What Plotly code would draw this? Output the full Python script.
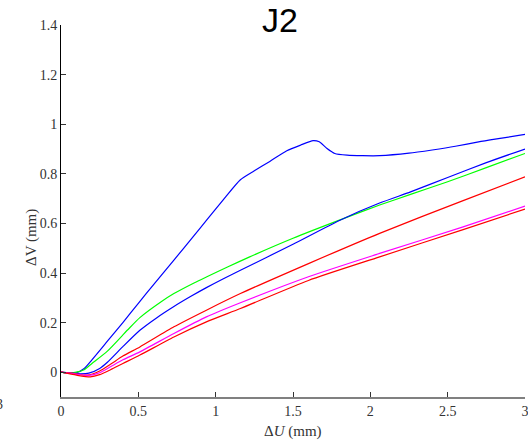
import plotly.graph_objects as go

# ---- data ----
blue1_x = [0, 0.05, 0.1, 0.15, 0.2, 0.3, 0.4, 0.5, 0.6, 0.73, 0.86, 0.94, 1.05, 1.16, 1.25, 1.35, 1.46, 1.55, 1.63, 1.67, 1.72, 1.77, 1.85, 1.95, 2.06, 2.25, 2.4, 2.55, 2.7, 2.85, 3.0]
blue1_y = [0, -0.004, -0.002, 0.015, 0.05, 0.125, 0.2, 0.278, 0.354, 0.452, 0.551, 0.612, 0.696, 0.776, 0.812, 0.85, 0.893, 0.916, 0.934, 0.929, 0.902, 0.882, 0.875, 0.873, 0.873, 0.883, 0.896, 0.911, 0.929, 0.944, 0.959]

green_x = [0, 0.05, 0.1, 0.15, 0.2, 0.3, 0.43, 0.51, 0.65, 0.73, 0.86, 0.94, 1.08, 1.22, 1.5, 1.8, 2.06, 2.26, 2.5, 2.75, 3.0]
green_y = [0, -0.004, 0.0, 0.01, 0.035, 0.085, 0.17, 0.22, 0.285, 0.317, 0.36, 0.384, 0.425, 0.465, 0.54, 0.613, 0.674, 0.717, 0.768, 0.825, 0.882]

blue2_x = [0, 0.1, 0.18, 0.25, 0.3, 0.4, 0.51, 0.62, 0.73, 0.84, 0.94, 1.05, 1.16, 1.5, 1.8, 2.06, 2.26, 2.5, 2.75, 3.0]
blue2_y = [0, -0.006, -0.004, 0.015, 0.04, 0.103, 0.169, 0.22, 0.265, 0.306, 0.341, 0.377, 0.411, 0.516, 0.612, 0.682, 0.727, 0.785, 0.845, 0.9]

red1_x = [0, 0.08, 0.17, 0.25, 0.32, 0.4, 0.51, 0.73, 0.94, 1.16, 1.6, 2.06, 2.6, 3.0]
red1_y = [0, -0.005, -0.012, 0.005, 0.032, 0.065, 0.102, 0.183, 0.25, 0.317, 0.438, 0.56, 0.692, 0.788]

magenta_x = [0, 0.1, 0.18, 0.25, 0.32, 0.4, 0.51, 0.73, 0.94, 1.16, 1.6, 2.06, 2.6, 3.0]
magenta_y = [0, -0.008, -0.013, -0.002, 0.022, 0.05, 0.082, 0.156, 0.223, 0.28, 0.385, 0.479, 0.586, 0.67]

red2_x = [0, 0.1, 0.19, 0.25, 0.32, 0.4, 0.51, 0.73, 0.94, 1.16, 1.6, 2.06, 2.6, 3.0]
red2_y = [0, -0.012, -0.019, -0.01, 0.01, 0.035, 0.069, 0.142, 0.203, 0.257, 0.37, 0.465, 0.575, 0.658]

x_ticks = [0, 0.5, 1, 1.5, 2, 2.5, 3]
x_ticklabels = ["0", "0.5", "1", "1.5", "2", "2.5", "3"]
y_ticks = [0, 0.2, 0.4, 0.6, 0.8, 1.0, 1.2, 1.4]
y_ticklabels = ["0", "0.2", "0.4", "0.6", "0.8", "1", "1.2", "1.4"]

series = [
    (blue1_x, blue1_y, "#0000ff"),
    (green_x, green_y, "#00ff00"),
    (blue2_x, blue2_y, "#0000ff"),
    (red1_x, red1_y, "#ff0000"),
    (magenta_x, magenta_y, "#ff00ff"),
    (red2_x, red2_y, "#ff0000"),
]

fig = go.Figure()
for xs, ys, c in series:
    fig.add_trace(go.Scatter(x=xs, y=ys, mode="lines",
                             line=dict(color=c, width=1.2, shape="spline", smoothing=0.6),
                             showlegend=False, hoverinfo="skip", cliponaxis=False))

serif = "Liberation Serif"
fig.update_layout(
    width=528, height=440,
    margin=dict(l=61, r=3, t=25, b=43, autoexpand=False),
    plot_bgcolor="white", paper_bgcolor="white",
    showlegend=False,
    font=dict(family=serif, size=14, color="#333333"),
)
fig.update_xaxes(range=[0, 3], tickvals=x_ticks, ticktext=x_ticklabels,
                 showline=True, linecolor="#808080", linewidth=1.5,
                 ticks="inside", ticklen=5, tickcolor="#333333",
                 showgrid=False, zeroline=False, automargin=False,
                 ticklabeloverflow="allow",
                 tickfont=dict(family=serif, size=14, color="#333333"))
fig.update_yaxes(range=[-0.1, 1.4], tickvals=y_ticks, ticktext=y_ticklabels,
                 showline=True, linecolor="#000000", linewidth=1,
                 ticks="inside", ticklen=5, tickcolor="#333333",
                 showgrid=False, zeroline=False, automargin=False,
                 ticklabeloverflow="allow",
                 tickfont=dict(family=serif, size=14, color="#333333"))

fig.add_annotation(text="J2", xref="paper", yref="paper", x=0.472, y=1.013,
                   xanchor="center", yanchor="middle", showarrow=False,
                   font=dict(family="Liberation Sans", size=34, color="#000000"))
fig.add_annotation(text="Δ<i>U</i> (mm)", xref="paper", yref="paper", x=0.5, y=-0.094,
                   xanchor="center", yanchor="middle", showarrow=False,
                   font=dict(family=serif, size=15, color="#333333"))
fig.add_annotation(text="ΔV (mm)", xref="paper", yref="paper", x=-0.0647, y=0.43,
                   xanchor="center", yanchor="middle", showarrow=False, textangle=-90,
                   font=dict(family=serif, size=15, color="#333333"))
fig.add_annotation(text="3", xref="paper", yref="paper", x=-0.1315, y=-0.0215,
                   xanchor="center", yanchor="middle", showarrow=False,
                   font=dict(family=serif, size=14, color="#333333"))

fig.write_html("out.html", config={"displayModeBar": False},
               post_script="document.body.style.margin='0';document.body.style.padding='0';")
